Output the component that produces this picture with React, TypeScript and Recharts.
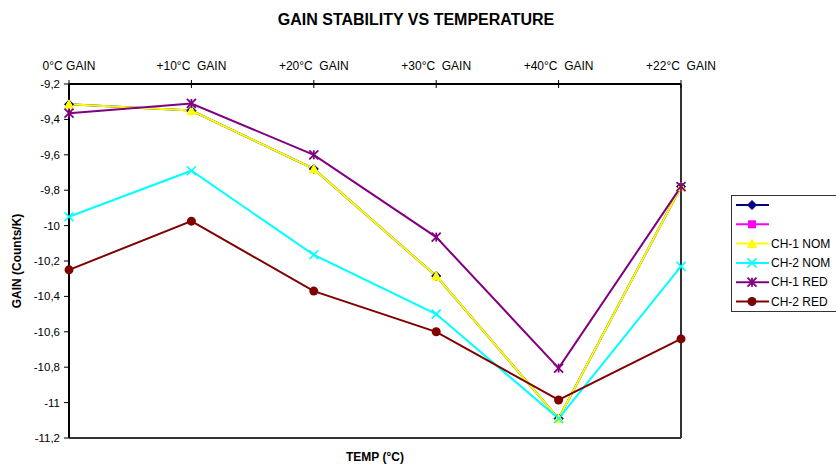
import React from "react";
import { LineChart, Line, XAxis, YAxis, ReferenceLine } from "recharts";

// Temperature steps (top category axis)
const categories = [
  "0°C GAIN",
  "+10°C  GAIN",
  "+20°C  GAIN",
  "+30°C  GAIN",
  "+40°C  GAIN",
  "+22°C  GAIN",
];

// Gain per channel (Counts/K)
const series1 = [-9.315, -9.35, -9.68, -10.285, -11.09, -9.78];
const series2: (number | null)[] = [null, null, null, null, null, null];
const ch1Nom = [-9.315, -9.35, -9.68, -10.285, -11.09, -9.78];
const ch2Nom = [-9.95, -9.69, -10.165, -10.5, -11.09, -10.23];
const ch1Red = [-9.365, -9.31, -9.6, -10.065, -10.805, -9.78];
const ch2Red = [-10.25, -9.975, -10.37, -10.6, -10.985, -10.64];

const yTicks = [-9.2, -9.4, -9.6, -9.8, -10, -10.2, -10.4, -10.6, -10.8, -11, -11.2];
const yDomain: [number, number] = [-11.2, -9.2];

type MarkerKind = "diamond" | "square" | "triangle" | "cross" | "star" | "circle";

const seriesDefs: { key: string; name: string; color: string; marker: MarkerKind; values: (number | null)[] }[] = [
  { key: "s1", name: "", color: "#000080", marker: "diamond", values: series1 },
  { key: "s2", name: "", color: "#FF00FF", marker: "square", values: series2 },
  { key: "ch1Nom", name: "CH-1 NOM", color: "#FFFF00", marker: "triangle", values: ch1Nom },
  { key: "ch2Nom", name: "CH-2 NOM", color: "#00FFFF", marker: "cross", values: ch2Nom },
  { key: "ch1Red", name: "CH-1 RED", color: "#800080", marker: "star", values: ch1Red },
  { key: "ch2Red", name: "CH-2 RED", color: "#800000", marker: "circle", values: ch2Red },
];

const data = categories.map((cat, i) => {
  const row: Record<string, string | number | null> = { cat };
  seriesDefs.forEach((s) => {
    row[s.key] = s.values[i];
  });
  return row;
});

const FONT = '"Liberation Sans", Arial, sans-serif';
const PLOT_TOP = 84;

function Marker({ kind, color, cx, cy }: { kind: MarkerKind; color: string; cx: number; cy: number }) {
  const r = 4.5;
  switch (kind) {
    case "diamond":
      return (
        <polygon
          points={`${cx},${cy - r} ${cx + r},${cy} ${cx},${cy + r} ${cx - r},${cy}`}
          fill={color}
          stroke={color}
        />
      );
    case "square":
      return <rect x={cx - 4} y={cy - 4} width={8} height={8} fill={color} />;
    case "triangle":
      return (
        <polygon
          points={`${cx},${cy - r} ${cx + r},${cy + r - 0.5} ${cx - r},${cy + r - 0.5}`}
          fill={color}
          stroke={color}
        />
      );
    case "cross":
      return (
        <g stroke={color} strokeWidth={1.6}>
          <line x1={cx - r} y1={cy - r} x2={cx + r} y2={cy + r} />
          <line x1={cx - r} y1={cy + r} x2={cx + r} y2={cy - r} />
        </g>
      );
    case "star":
      return (
        <g stroke={color} strokeWidth={1.8}>
          <line x1={cx - r} y1={cy - r} x2={cx + r} y2={cy + r} />
          <line x1={cx - r} y1={cy + r} x2={cx + r} y2={cy - r} />
          <line x1={cx} y1={cy - r} x2={cx} y2={cy + r} />
        </g>
      );
    case "circle":
    default:
      return <circle cx={cx} cy={cy} r={4.5} fill={color} />;
  }
}

function makeDot(kind: MarkerKind, color: string) {
  return (props: any) => {
    const { cx, cy, index } = props;
    if (cx == null || cy == null || props.value == null) return <g key={`d-${index}`} />;
    return (
      <g key={`d-${index}`}>
        <Marker kind={kind} color={color} cx={cx} cy={cy} />
      </g>
    );
  };
}

function TopTick(props: any) {
  const { x, payload } = props;
  return (
    <g>
      <line x1={x} y1={PLOT_TOP - 4} x2={x} y2={PLOT_TOP + 4} stroke="#000" strokeWidth={1} />
      <text
        x={x}
        y={PLOT_TOP - 18}
        textAnchor="middle"
        dominantBaseline="central"
        fontSize={12}
        fontFamily={FONT}
        fill="#000"
        style={{ whiteSpace: "pre" }}
      >
        {payload.value}
      </text>
    </g>
  );
}

const formatY = (v: number) => String(Math.round(v * 10) / 10).replace(".", ",");

function LegendBox() {
  const rowH = 19.3;
  return (
    <svg width={105} height={118} style={{ display: "block" }}>
      <rect x={0.5} y={0.5} width={120} height={116} fill="#fff" stroke="#333" strokeWidth={1} />
      {seriesDefs.map((s, i) => {
        const cy = 10 + i * rowH;
        return (
          <g key={s.key}>
            <line x1={5} y1={cy} x2={38} y2={cy} stroke={s.color} strokeWidth={2} />
            <Marker kind={s.marker} color={s.color} cx={21} cy={cy} />
            <text x={40} y={cy} dominantBaseline="central" fontSize={12} fontFamily={FONT} fill="#000">
              {s.name}
            </text>
          </g>
        );
      })}
    </svg>
  );
}

export default function App() {
  return (
    <div style={{ position: "absolute", left: 0, top: 0, width: 836, height: 464, background: "#fff", overflow: "hidden" }}>
      <div
        style={{
          position: "absolute",
          left: 0,
          width: 832,
          top: 10,
          textAlign: "center",
          fontFamily: FONT,
          fontWeight: "bold",
          fontSize: 16,
          lineHeight: "20px",
        }}
      >
        GAIN STABILITY VS TEMPERATURE
      </div>
      <div
        style={{
          position: "absolute",
          left: 69,
          width: 612,
          top: 450,
          textAlign: "center",
          fontFamily: FONT,
          fontWeight: "bold",
          fontSize: 12,
          lineHeight: "14px",
        }}
      >
        TEMP (°C)
      </div>
      <div style={{ position: "absolute", left: 731, top: 195 }}>
        <LegendBox />
      </div>
      <div style={{ position: "absolute", left: 0, top: 0 }}>
        <LineChart
          width={836}
          height={464}
          data={data}
          margin={{ top: 54, right: 155, bottom: 26, left: 0 }}
        >
          <XAxis
            dataKey="cat"
            orientation="top"
            height={30}
            interval={0}
            tick={<TopTick />}
            tickLine={false}
            axisLine={{ stroke: "#000", strokeWidth: 2 }}
          />
          <YAxis
            type="number"
            domain={yDomain}
            ticks={yTicks}
            width={69}
            tickFormatter={formatY}
            tickSize={5}
            tickMargin={4}
            tickLine={{ stroke: "#000", strokeWidth: 1 }}
            axisLine={{ stroke: "#000", strokeWidth: 2 }}
            tick={{ fontSize: 11.5, fontFamily: FONT, fill: "#000" }}
            allowDataOverflow
            label={{
              value: "GAIN (Counts/K)",
              angle: -90,
              position: "insideLeft",
              offset: 17,
              style: { fontSize: 12, fontWeight: "bold", fontFamily: FONT, fill: "#000", textAnchor: "middle" },
            }}
          />
          <ReferenceLine y={-11.2} stroke="#333" strokeWidth={2} />
          <ReferenceLine x={categories[categories.length - 1]} stroke="#333" strokeWidth={2} />
          {seriesDefs.map((s) => (
            <Line
              key={s.key}
              dataKey={s.key}
              name={s.name}
              stroke={s.color}
              strokeWidth={2}
              type="linear"
              dot={makeDot(s.marker, s.color)}
              activeDot={false}
              isAnimationActive={false}
              connectNulls={false}
            />
          ))}
        </LineChart>
      </div>
    </div>
  );
}
